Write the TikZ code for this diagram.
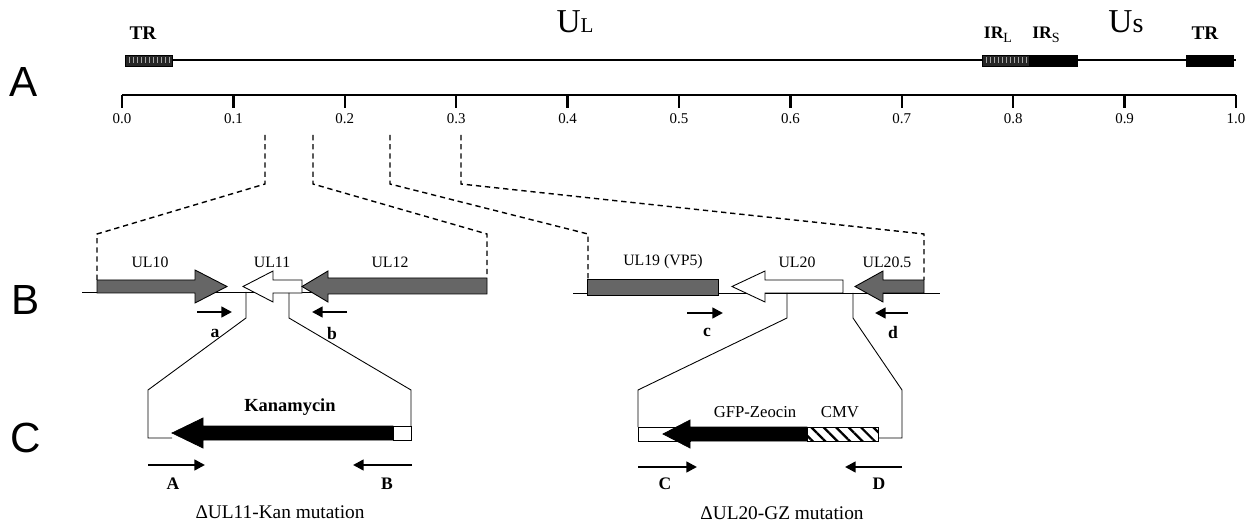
\documentclass[tikz,border=0pt]{standalone}
\usepackage{fontspec}
\setmainfont{Liberation Serif}
\newfontfamily\panelfont{Liberation Sans}
\usetikzlibrary{arrows.meta,patterns.meta}
\definecolor{genegray}{RGB}{102,102,102}

\begin{document}
\begin{tikzpicture}[x=0.02cm, y=-0.02cm,
		panel/.style={font=\panelfont\fontsize{24}{24}\selectfont},
		genelabel/.style={font=\fontsize{9}{10}\selectfont},
		boldlabel/.style={font=\bfseries\fontsize{10}{11}\selectfont},
		ticklabel/.style={font=\fontsize{8.5}{9}\selectfont},
		mutlabel/.style={font=\fontsize{11}{12}\selectfont},
		zoomline/.style={dash pattern=on 3pt off 2.2pt, line width=0.8pt},
		bbone/.style={line width=0.5pt},
		primer/.style={line width=1.4pt, -{Triangle[length=6pt,width=6pt]}},
		gene/.style={draw=black, line width=0.5pt, fill=genegray}]
				\useasboundingbox (0,0) rectangle (1250,523);

				% Genome
				\node[panel] (pA) at (24,82) {A};
				\draw[line width=1.1pt] (125,60) -- (1236,60);
				\draw[fill=black!85] (125,55) rectangle (172,66);
				\foreach \x in {129,133,...,169}
					\draw[gray!70, line width=0.4pt] (\x,57.5) -- (\x,63.5);
				\draw[fill=black!85] (982,55) rectangle (1029,66);
				\foreach \x in {986,990,...,1026}
					\draw[gray!70, line width=0.4pt] (\x,57.5) -- (\x,63.5);
				\draw[fill=black] (1029,55) rectangle (1077,66);
				\draw[fill=black] (1186,55) rectangle (1233,66);
				\node[boldlabel, font=\bfseries\fontsize{11}{12}\selectfont] (trA) at (143,33) {TR};
				\node (ul) at (575,22) {\fontsize{19}{19}\selectfont U\fontsize{12}{12}\selectfont L};
				\node[boldlabel] (irl) at (998,35) {IR\raisebox{-2.5pt}{\mdseries\fontsize{8}{8}\selectfont L}};
				\node[boldlabel] (irs) at (1046,35) {IR\raisebox{-2.5pt}{\mdseries\fontsize{8}{8}\selectfont S}};
				\node (us) at (1126,22) {\fontsize{19}{19}\selectfont U\fontsize{16}{16}\selectfont s};
				\node[boldlabel, font=\bfseries\fontsize{11}{12}\selectfont] (trB) at (1205,33) {TR};

				% Scale
				\draw[line width=1.3pt] (122,95) -- (1236,95);
				\foreach \i/\lab in {0/0.0,1/0.1,2/0.2,3/0.3,4/0.4,5/0.5,6/0.6,7/0.7,8/0.8,9/0.9,10/1.0} {
					\draw[line width=1.3pt] (122+111.4*\i,95) -- (122+111.4*\i,108);
					\node[ticklabel] (t\i) at (122+111.4*\i,119) {\lab};
				}

				% Zoom lines
				\draw[zoomline] (265,135) -- (265,184) -- (97,234) -- (97,280);
				\draw[zoomline] (313,135) -- (313,184) -- (487,234) -- (487,278);
				\draw[zoomline] (390,135) -- (390,184) -- (588,234) -- (588,279);
				\draw[zoomline] (461,135) -- (461,184) -- (924,234) -- (924,280);

				% UL10 - UL12
				\node[panel] (pB) at (26,300) {B};
				\draw[bbone] (82,292) -- (487,292);
				\draw[gene] (97,280) -- (195,280) -- (195,270) -- (227,286.5) -- (195,303) -- (195,293) -- (97,293) -- cycle;
				\draw[gene, fill=white] (302,280) -- (273,280) -- (273,271) -- (243,286.5) -- (273,302) -- (273,293) -- (302,293) -- cycle;
				\draw[gene] (487,278) -- (328,278) -- (328,271) -- (302,286.5) -- (328,302) -- (328,294) -- (487,294) -- cycle;
				\node[genelabel] (ul10) at (150,262) {UL10};
				\node[genelabel] (ul11) at (272,262) {UL11};
				\node[genelabel] (ul12) at (390,262) {UL12};
				\draw[primer] (197,312) -- (232,312);
				\draw[primer] (347,312) -- (312,312);
				\node[boldlabel] (pa) at (215,333) {a};
				\node[boldlabel] (pb) at (332,333) {b};

				% UL19 - UL20.5
				\draw[bbone] (573,293) -- (940,293);
				\draw[gene] (587,279) rectangle (718,295);
				\draw[gene, fill=white] (843,280) -- (765,280) -- (765,271) -- (732,286.5) -- (765,302) -- (765,293) -- (843,293) -- cycle;
				\draw[gene] (924,280) -- (883,280) -- (883,271) -- (855,286.5) -- (883,302) -- (883,293) -- (924,293) -- cycle;
				\node[genelabel] (ul19) at (663,262) {UL19 (VP5)};
				\node[genelabel] (ul20) at (797,262) {UL20};
				\node[genelabel] (ul205) at (887,262) {UL20.5};
				\draw[primer] (687,313) -- (723,313);
				\draw[primer] (908,313) -- (875,313);
				\node[boldlabel] (pc) at (707,332) {c};
				\node[boldlabel] (pd) at (893,332) {d};

				% Kanamycin insert
				\node[panel] (pC) at (26,438) {C};
				\draw[bbone] (246,292) -- (246,318) -- (148,390) -- (148,438) -- (172,438);
				\draw[bbone] (289,293) -- (289,318) -- (411,390) -- (411,438);
				\draw[fill=black] (393,426) -- (203,426) -- (203,418) -- (172,433) -- (203,448) -- (203,440) -- (393,440) -- cycle;
				\draw[fill=white] (393,426) rectangle (411,440);
				\node[boldlabel, font=\bfseries\fontsize{10.5}{11}\selectfont] (kan) at (290,407) {Kanamycin};
				\draw[primer] (148,465) -- (205,465);
				\draw[primer] (412,465) -- (353,465);
				\node[boldlabel] (pA2) at (173,484) {A};
				\node[boldlabel] (pB2) at (387,484) {B};
				\node[mutlabel] (kanmut) at (280,512) {ΔUL11-Kan mutation};

				% GFP-Zeocin insert
				\draw[bbone] (787,293) -- (787,318) -- (638,390) -- (638,427);
				\draw[bbone] (853,293) -- (853,318) -- (902,390) -- (902,438) -- (878,438);
				\draw[fill=white] (638,427) rectangle (690,441);
				\draw[pattern={Lines[angle=-45,distance=5pt,line width=1.3pt]}] (807,427) rectangle (878,441);
				\draw[fill=black] (807,427) -- (690,427) -- (690,420) -- (663,434) -- (690,448) -- (690,441) -- (807,441) -- cycle;
				\node[genelabel, font=\fontsize{9.5}{10}\selectfont] (gfp) at (755,412) {GFP-Zeocin};
				\node[genelabel, font=\fontsize{9.5}{10}\selectfont] (cmv) at (840,412) {CMV};
				\draw[primer] (638,467) -- (697,467);
				\draw[primer] (902,467) -- (845,467);
				\node[boldlabel] (pC2) at (665,484) {C};
				\node[boldlabel] (pD2) at (879,484) {D};
				\node[mutlabel] (gzmut) at (782,513) {ΔUL20-GZ mutation};
			\end{tikzpicture}
\end{document}
